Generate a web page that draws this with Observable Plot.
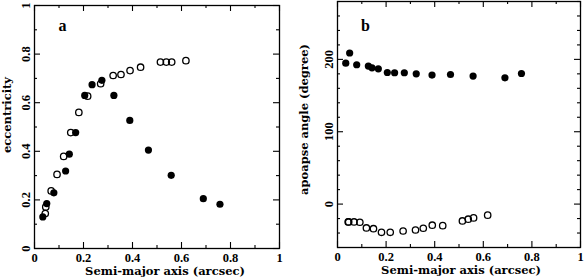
<!DOCTYPE html>
<html>
<head>
<meta charset="utf-8">
<script src="https://cdn.jsdelivr.net/npm/d3@7"></script>
<script src="https://cdn.jsdelivr.net/npm/@observablehq/plot@0.6"></script>
<style>
  body { margin: 0; background: #fff; }
  #wrap { position: relative; width: 586px; height: 278px; overflow: hidden; }
  #wrap > div { position: absolute; top: 0; }
  #pa { left: 0; }
  #pb { left: 293px; }
</style>
</head>
<body>
<div id="wrap"><div id="pa"></div><div id="pb"></div></div>
<script>
// Filled-circle series
const filledAxis = [0.034, 0.050, 0.079, 0.127, 0.142, 0.168, 0.205, 0.235, 0.275, 0.324, 0.389, 0.465, 0.558, 0.689, 0.757];
const filledEcc  = [0.130, 0.185, 0.229, 0.319, 0.388, 0.477, 0.630, 0.674, 0.692, 0.630, 0.527, 0.405, 0.301, 0.205, 0.182];
const filledApo  = [194.8, 208.8, 192.6, 190.8, 188.4, 187.0, 181.9, 181.5, 181.5, 180.1, 178.3, 179.1, 176.9, 174.5, 180.5];
// Open-circle series
const openAxis = [0.044, 0.046, 0.068, 0.092, 0.119, 0.148, 0.181, 0.217, 0.270, 0.321, 0.353, 0.390, 0.433, 0.514, 0.538, 0.560, 0.618];
const openEcc  = [0.144, 0.171, 0.237, 0.305, 0.379, 0.477, 0.560, 0.627, 0.678, 0.712, 0.716, 0.732, 0.746, 0.767, 0.767, 0.767, 0.773];
const openApo  = [-24.7, -24.7, -24.7, -25.1, -33.0, -34.0, -39.0, -39.0, -37.2, -35.8, -33.4, -29.2, -29.8, -23.3, -20.9, -19.1, -15.3];

// Axis ticks
const xMajor = [0, 0.2, 0.4, 0.6, 0.8, 1];
const xMinor = [0.1, 0.3, 0.5, 0.7, 0.9];
const eccMajor = [0, 0.2, 0.4, 0.6, 0.8, 1];
const eccMinor = [0.1, 0.3, 0.5, 0.7, 0.9];
const apoMajor = [0, 100, 200];
const apoMinor = [-60, -40, -20, 20, 40, 60, 80, 120, 140, 160, 180, 220, 240, 260, 280];

const xLabel = "Semi-major axis (arcsec)";
const yLabelA = "eccentricity";
const yLabelB = "apoapse angle (degree)";

const fmt = d => String(+d.toFixed(1));
const tickFont = "Liberation Serif";
const labFont = "DejaVu Serif";

const filled = (ys) => filledAxis.map((a, i) => ({a, v: ys[i]}));
const open = (ys) => openAxis.map((a, i) => ({a, v: ys[i]}));

function panel({width, height, mL, mR, mT, mB, yDomain, yMaj, yMin, yFilled, yOpen, yLabel, yLabelDx, yLabelDy, xLabelDx, letter, letterDx, letterDy}) {
  const iw = width - mL - mR, ih = height - mT - mB;
  const MAJ = 6, MIN = 3;
  return Plot.plot({
    width, height,
    marginLeft: mL, marginRight: mR, marginTop: mT, marginBottom: mB,
    style: {background: "white", overflow: "visible"},
    x: {domain: [0, 1], axis: null},
    y: {domain: yDomain, axis: null},
    marks: [
      Plot.frame({stroke: "black", strokeWidth: 1.3}),
      // x ticks bottom + top
      Plot.ruleX(xMajor, {x: d => d, insetTop: ih - MAJ, strokeWidth: 1.1}),
      Plot.ruleX(xMinor, {x: d => d, insetTop: ih - MIN, strokeWidth: 1.1}),
      Plot.ruleX(xMajor, {x: d => d, insetBottom: ih - MAJ, strokeWidth: 1.1}),
      Plot.ruleX(xMinor, {x: d => d, insetBottom: ih - MIN, strokeWidth: 1.1}),
      // y ticks left + right
      Plot.ruleY(yMaj, {y: d => d, insetRight: iw - MAJ, strokeWidth: 1.1}),
      Plot.ruleY(yMin, {y: d => d, insetRight: iw - MIN, strokeWidth: 1.1}),
      Plot.ruleY(yMaj, {y: d => d, insetLeft: iw - MAJ, strokeWidth: 1.1}),
      Plot.ruleY(yMin, {y: d => d, insetLeft: iw - MIN, strokeWidth: 1.1}),
      // tick labels
      Plot.text(xMajor, {x: d => d, text: fmt, frameAnchor: "bottom", dy: 4.5, lineAnchor: "top",
        fontFamily: tickFont, fontWeight: "bold", fontSize: 12.5, fill: "black"}),
      Plot.text(yMaj, {y: d => d, text: fmt, frameAnchor: "left", dx: -5, rotate: -90,
        textAnchor: "middle", lineAnchor: "bottom",
        fontFamily: tickFont, fontWeight: "bold", fontSize: 12.5, fill: "black"}),
      // axis labels
      Plot.text([xLabel], {text: d => d, frameAnchor: "bottom", dx: xLabelDx, dy: 18.5, lineAnchor: "top",
        fontFamily: labFont, fontWeight: "bold", fontSize: 11.5, fill: "black"}),
      Plot.text([yLabel], {text: d => d, frameAnchor: "left", dx: yLabelDx, dy: yLabelDy, rotate: -90,
        textAnchor: "middle", lineAnchor: "bottom",
        fontFamily: labFont, fontWeight: "bold", fontSize: 11.5, fill: "black"}),
      Plot.text([letter], {text: d => d, frameAnchor: "top-left", dx: letterDx, dy: letterDy,
        textAnchor: "middle", lineAnchor: "middle",
        fontFamily: tickFont, fontWeight: "bold", fontSize: 16, fill: "black"}),
      // data
      Plot.dot(yOpen, {x: "a", y: "v", r: 3.2, fill: "none", stroke: "black", strokeWidth: 1.3}),
      Plot.dot(yFilled, {x: "a", y: "v", r: 3.6, fill: "black", stroke: "none"})
    ]
  });
}

document.getElementById("pa").appendChild(panel({
  width: 293, height: 278, mL: 34, mR: 14, mT: 5, mB: 30,
  yDomain: [0, 1], yMaj: eccMajor, yMin: eccMinor,
  yFilled: filled(filledEcc), yOpen: open(openEcc),
  yLabel: yLabelA, yLabelDx: -24, yLabelDy: -12, xLabelDx: 8,
  letter: "a", letterDx: 28, letterDy: 20
}));

document.getElementById("pb").appendChild(panel({
  width: 293, height: 278, mL: 44, mR: 6, mT: 1, mB: 31,
  yDomain: [-60, 280], yMaj: apoMajor, yMin: apoMinor,
  yFilled: filled(filledApo), yOpen: open(openApo),
  yLabel: yLabelB, yLabelDx: -30, yLabelDy: -5, xLabelDx: 2,
  letter: "b", letterDx: 28, letterDy: 24
}));
</script>
</body>
</html>
